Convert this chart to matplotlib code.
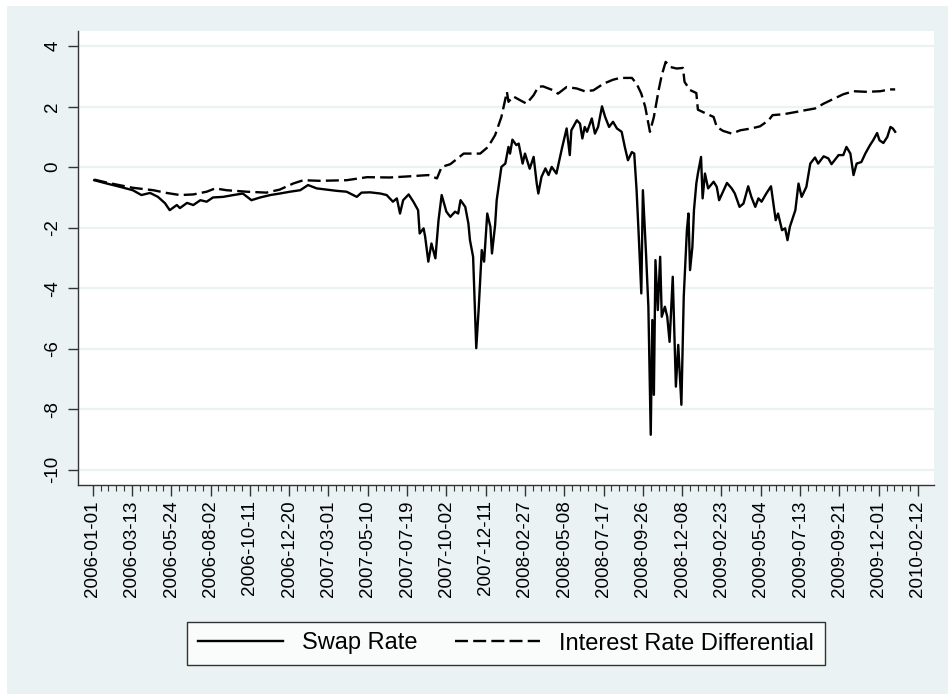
import matplotlib
matplotlib.use("Agg")
import matplotlib.pyplot as plt
from matplotlib.patches import Rectangle

plt.rcParams['font.family'] = ['Liberation Sans', 'DejaVu Sans']

# x = observation index (50 obs per labelled tick)
tick_dates = ['2006-01-01', '2006-03-13', '2006-05-24', '2006-08-02', '2006-10-11',
              '2006-12-20', '2007-03-01', '2007-05-10', '2007-07-19', '2007-10-02',
              '2007-12-11', '2008-02-27', '2008-05-08', '2008-07-17', '2008-09-26',
              '2008-12-08', '2009-02-23', '2009-05-04', '2009-07-13', '2009-09-21',
              '2009-12-01', '2010-02-12']
obs_per_tick = 50

swap_obs = [2, 18, 35, 51, 62, 73, 83, 92, 98, 107, 111, 120, 128, 137, 145, 153, 166, 179,
            191, 202, 213, 226, 238, 251, 264, 274, 285, 298, 310, 323, 336, 342, 353, 366,
            374, 382, 387, 391, 395, 402, 408, 414, 416, 421, 423, 427, 431, 436, 440, 444,
            450, 455, 461, 465, 468, 474, 478, 480, 484, 488, 491, 495, 498, 502, 506, 508,
            512, 514, 520, 525, 529, 531, 534, 539, 542, 547, 550, 556, 561, 565, 567, 571,
            576, 580, 584, 590, 597, 603, 607, 609, 616, 620, 623, 626, 629, 635, 639, 643,
            648, 652, 657, 662, 667, 673, 677, 681, 686, 689, 692, 695, 698, 700, 704, 707,
            710, 712, 714, 716, 719, 722, 724, 728, 731, 734, 738, 742, 745, 749, 752, 756,
            758, 760, 763, 765, 768, 770, 774, 776, 779, 783, 790, 794, 797, 807, 813, 817,
            823, 828, 834, 838, 843, 847, 851, 857, 863, 866, 869, 872, 877, 881, 884, 887,
            894, 898, 902, 908, 913, 919, 923, 930, 936, 940, 949, 955, 959, 964, 968, 972,
            978, 983, 989, 993, 998, 1001, 1006, 1011, 1015, 1018, 1021]
swap_val = [-0.43, -0.54, -0.65, -0.76, -0.92, -0.85, -0.98, -1.19, -1.42, -1.25, -1.35, -1.18,
            -1.25, -1.09, -1.14, -1.00, -0.98, -0.92, -0.87, -1.09, -1.00, -0.92, -0.87, -0.81,
            -0.76, -0.59, -0.70, -0.74, -0.78, -0.81, -0.98, -0.84, -0.83, -0.87, -0.92, -1.14,
            -1.03, -1.53, -1.09, -0.90, -1.14, -1.42, -2.19, -2.02, -2.30, -3.12, -2.52, -3.01,
            -1.75, -0.92, -1.47, -1.64, -1.47, -1.53, -1.09, -1.31, -1.86, -2.41, -2.96, -5.98,
            -4.72, -2.74, -3.12, -1.53, -1.97, -2.85, -1.91, -1.09, 0.01, 0.12, 0.67, 0.45,
            0.91, 0.73, 0.78, 0.12, 0.45, -0.05, 0.34, -0.55, -0.87, -0.32, -0.04, -0.26,
            0.01, -0.21, 0.62, 1.28, 0.40, 1.22, 1.55, 1.44, 0.95, 1.33, 1.17, 1.61,
            1.11, 1.33, 2.01, 1.66, 1.33, 1.50, 1.28, 1.17, 0.67, 0.23, 0.50, 0.45,
            -0.76, -2.41, -4.17, -0.76, -2.85, -4.61, -8.84, -5.05, -7.52, -3.07, -4.72, -2.96,
            -4.94, -4.61, -4.94, -5.77, -3.62, -7.25, -5.87, -7.85, -4.28, -2.08, -1.53, -3.40,
            -2.63, -1.42, -0.54, -0.21, 0.34, -1.03, -0.21, -0.70, -0.48, -0.65, -1.09, -0.52,
            -0.70, -0.87, -1.31, -1.20, -0.63, -0.98, -1.31, -1.03, -1.14, -0.87, -0.63, -1.20,
            -1.75, -1.53, -2.08, -2.02, -2.41, -1.97, -1.42, -0.54, -0.98, -0.65, 0.12, 0.32,
            0.12, 0.36, 0.29, 0.10, 0.40, 0.40, 0.67, 0.45, -0.26, 0.12, 0.17, 0.45,
            0.73, 0.89, 1.13, 0.89, 0.80, 1.00, 1.33, 1.28, 1.17]

ird_obs = [2, 20, 51, 77, 94, 111, 128, 145, 156, 170, 196, 221, 238, 255, 268, 289, 323,
           349, 378, 404, 427, 438, 444, 455, 472, 493, 503, 512, 520, 527, 529, 535, 544,
           552, 561, 567, 573, 586, 592, 603, 616, 626, 637, 650, 662, 671, 686, 692, 698,
           703, 709, 714, 720, 724, 729, 735, 743, 751, 753, 760, 768, 770, 779, 790, 794,
           802, 813, 824, 838, 849, 860, 865, 879, 896, 906, 919, 930, 942, 955, 968, 985,
           1002, 1014, 1021]
ird_val = [-0.41, -0.52, -0.68, -0.76, -0.85, -0.92, -0.90, -0.81, -0.70, -0.76, -0.81, -0.84,
           -0.74, -0.54, -0.43, -0.45, -0.43, -0.33, -0.34, -0.30, -0.26, -0.37, 0.01, 0.10,
           0.45, 0.45, 0.67, 1.06, 1.66, 2.49, 2.16, 2.34, 2.21, 2.10, 2.38, 2.66, 2.67,
           2.54, 2.43, 2.65, 2.60, 2.51, 2.54, 2.76, 2.89, 2.95, 2.95, 2.76, 2.43, 1.99,
           1.17, 1.66, 2.54, 3.04, 3.48, 3.31, 3.26, 3.28, 2.82, 2.55, 2.45, 1.90, 1.79,
           1.66, 1.33, 1.20, 1.11, 1.22, 1.28, 1.35, 1.55, 1.72, 1.75, 1.83, 1.88, 1.94,
           2.10, 2.25, 2.41, 2.51, 2.49, 2.51, 2.57, 2.57]

bg = '#EAF2F3'

fig = plt.figure(figsize=(9.48, 6.94), dpi=100, facecolor='white')
fig.patches.append(Rectangle((7 / 948, 0), 1, 1 - 6 / 694, transform=fig.transFigure,
                             facecolor=bg, edgecolor='none', zorder=-10))
ax = fig.add_axes([78 / 948, 1 - 485 / 694, (934 - 78) / 948, (485 - 31) / 694])
ax.set_facecolor('white')

ax.plot(swap_obs, swap_val, color='black', linewidth=1.7, label='Swap Rate')
ax.plot(ird_obs, ird_val, color='black', linewidth=1.7, dashes=(5.5, 2.2),
        label='Interest Rate Differential')

ax.set_xlim(-18.7, 1070.4)
ax.set_ylim(-10.5, 4.5)

yt = [-10, -8, -6, -4, -2, 0, 2, 4]
ax.set_yticks(yt)
ax.set_yticklabels([str(v) for v in yt], rotation=90, va='center', fontsize=13.5)
for v in yt:
    ax.axhline(v, color=bg, linewidth=1.6, zorder=0)

xt = [i * obs_per_tick for i in range(len(tick_dates))]
ax.set_xticks(xt)
ax.set_xticklabels(tick_dates, rotation=90, fontsize=13.5)
ax.set_xticks(range(0, xt[-1] + 1, 10), minor=True)

ax.tick_params(axis='y', length=7, width=1, color='#333333', pad=5)
ax.tick_params(axis='x', which='major', length=8, width=1, color='#333333', pad=3)
ax.tick_params(axis='x', which='minor', length=4, width=0.8, color='#333333')

for s in ['top', 'right']:
    ax.spines[s].set_visible(False)
for s in ['left', 'bottom']:
    ax.spines[s].set_color('#333333')
    ax.spines[s].set_linewidth(1.0)

leg = ax.legend(loc='center', bbox_to_anchor=(0.5, (694 - 643.5 - 209) / 454),
                ncol=2, fontsize=17, frameon=True, fancybox=False, edgecolor='black',
                handlelength=3.6, handletextpad=0.8, columnspacing=1.6, borderpad=0.45)
leg.get_frame().set_linewidth(1.0)

fig.savefig('out.png', dpi=100, facecolor=fig.get_facecolor())
